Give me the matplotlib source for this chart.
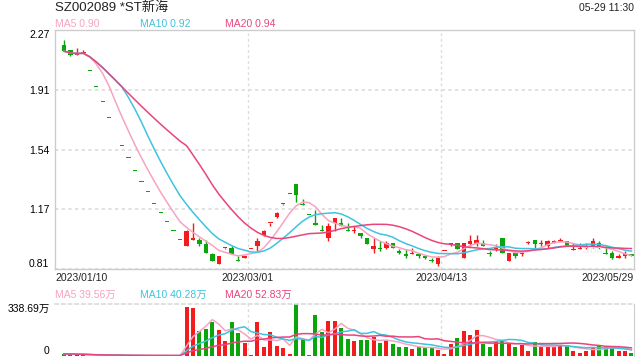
import numpy as np
import pandas as pd
import matplotlib
matplotlib.use('Agg')
import matplotlib.pyplot as plt

plt.rcParams['font.family'] = ['Liberation Sans', 'Noto Sans CJK SC', 'DejaVu Sans']

title = 'SZ002089 *ST新海'
stamp = '05-29 11:30'
date_labels = ['2023/01/10', '2023/03/01', '2023/04/13', '2023/05/29']
price_labels = ['0.81', '1.17', '1.54', '1.91', '2.27']
vol_labels = ['0', '338.69万']
ma_names = ['MA5', 'MA10', 'MA20']
ma_price_vals = ['0.90', '0.92', '0.94']
ma_vol_vals = ['39.56万', '40.28万', '52.83万']

opens = [2.18, 2.15, 2.12, 2.13, 2.02, 1.92, 1.83, 1.73, 1.65, 1.56, 1.49, 1.41, 1.34, 1.28, 1.21,
         1.15, 1.10, 1.04, 0.99, 0.95, 0.99, 0.99, 0.96, 0.90, 0.84, 0.94, 0.94, 0.86, 0.88, 0.93,
         0.95, 1.02, 1.09, 1.13, 1.21, 1.27, 1.33, 1.20, 1.14, 1.09, 1.05, 1.00, 1.09, 1.09, 1.05,
         1.04, 1.03, 1.00, 0.93, 0.94, 0.94, 0.97, 0.92, 0.90, 0.90, 0.90, 0.89, 0.865, 0.84, 0.92,
         0.96, 0.97, 0.88, 0.96, 0.96, 0.97, 0.91, 0.93, 1.00, 0.86, 0.91, 0.90, 0.97, 0.99, 0.96,
         0.95, 0.97, 0.98, 0.98, 0.925, 0.93, 0.94, 0.95, 0.97, 0.91, 0.91, 0.88, 0.89, 0.90]
highs = [2.21, 2.15, 2.16, 2.15, 2.02, 1.92, 1.83, 1.73, 1.65, 1.56, 1.49, 1.41, 1.34, 1.28, 1.21,
         1.15, 1.10, 1.04, 0.99, 1.05, 1.09, 1.00, 0.99, 0.91, 0.89, 0.94, 0.95, 0.89, 0.89, 0.93,
         1.00, 1.05, 1.09, 1.16, 1.21, 1.27, 1.33, 1.24, 1.14, 1.17, 1.08, 1.09, 1.12, 1.12, 1.09,
         1.07, 1.03, 1.00, 1.00, 0.98, 0.98, 0.97, 0.93, 0.93, 0.94, 0.91, 0.89, 0.88, 0.89, 0.92,
         0.97, 0.97, 0.97, 1.02, 1.02, 0.99, 0.92, 0.96, 1.00, 0.91, 0.92, 0.92, 0.98, 0.99, 0.99,
         0.99, 0.99, 1.00, 0.98, 0.97, 0.97, 0.97, 1.00, 0.98, 0.95, 0.92, 0.90, 0.92, 0.90]
lows = [2.14, 2.11, 2.12, 2.13, 2.02, 1.92, 1.83, 1.73, 1.65, 1.56, 1.49, 1.41, 1.34, 1.28, 1.21,
        1.15, 1.10, 1.04, 0.99, 0.95, 0.99, 0.95, 0.91, 0.86, 0.84, 0.93, 0.90, 0.86, 0.88, 0.93,
        0.92, 1.01, 1.07, 1.12, 1.20, 1.27, 1.22, 1.20, 1.14, 1.08, 1.04, 0.98, 1.04, 1.07, 1.04,
        1.03, 1.00, 0.96, 0.91, 0.92, 0.93, 0.94, 0.90, 0.88, 0.90, 0.88, 0.87, 0.85, 0.83, 0.92,
        0.95, 0.93, 0.88, 0.95, 0.95, 0.95, 0.89, 0.92, 0.91, 0.86, 0.88, 0.89, 0.96, 0.94, 0.95,
        0.94, 0.97, 0.98, 0.95, 0.925, 0.93, 0.93, 0.94, 0.93, 0.90, 0.87, 0.88, 0.88, 0.89]
closes = [2.14, 2.12, 2.12, 2.13, 2.02, 1.92, 1.83, 1.73, 1.65, 1.56, 1.49, 1.41, 1.34, 1.28, 1.21,
          1.15, 1.10, 1.04, 0.99, 1.04, 1.00, 0.96, 0.91, 0.86, 0.89, 0.94, 0.90, 0.86, 0.89, 0.93,
          0.98, 1.04, 1.09, 1.15, 1.21, 1.27, 1.26, 1.20, 1.14, 1.08, 1.04, 1.07, 1.12, 1.07, 1.04,
          1.05, 1.01, 0.96, 0.95, 0.93, 0.97, 0.94, 0.91, 0.89, 0.90, 0.89, 0.88, 0.86, 0.88, 0.92,
          0.97, 0.93, 0.97, 0.98, 0.99, 0.95, 0.90, 0.94, 0.91, 0.91, 0.89, 0.91, 0.97, 0.96, 0.97,
          0.98, 0.98, 0.99, 0.95, 0.93, 0.93, 0.95, 0.98, 0.94, 0.90, 0.88, 0.89, 0.90, 0.89]
# volume in 万
volumes = [14, 12, 10, 8, 3, 2, 2, 2, 2, 2, 2, 2, 2, 2, 2, 2, 2, 2, 3,
           316, 311, 163, 176, 219, 169, 95, 219, 151, 83, 4, 219, 61, 158, 63, 52, 10, 338.69, 102, 5, 264,
           158, 226, 226, 185, 108, 97, 102, 102, 124, 83, 106, 75, 61, 61, 45, 61, 50, 61, 41, 11,
           75, 117, 165, 135, 169, 79, 61, 97, 106, 75, 60, 70, 30, 90, 65, 60, 60, 72, 72,
           34, 20, 34, 52, 68, 61, 52, 34, 34, 20]

RED = '#f31c1c'
GREEN = '#0aa50a'
MA_COLORS = ['#f7a3c2', '#3fc3df', '#e9447c']
GRID = '#dcdcdc'
EDGE = '#cccccc'

o = np.array(opens); h = np.array(highs); l = np.array(lows); c = np.array(closes)
v = np.array(volumes, dtype=float)
n = len(c)
x = np.arange(n)
prev = np.r_[c[0], c[:-1]]
up = (c > o) | ((c == o) & (c >= prev))
colors = np.where(up, RED, GREEN)

W, H = 640, 360
fig = plt.figure(figsize=(6.4, 3.6), dpi=100)

def box(left, top, right, bottom):
    return [left / W, 1 - bottom / H, (right - left) / W, (bottom - top) / H]

def ftext(px, py, s, **kw):
    fig.text(px / W, 1 - py / H, s, **kw)

xlim = (-1.4, 88.4)

# price panel
ax = fig.add_axes(box(55, 30, 634, 269))
ax.vlines(x, l, h, color=colors, lw=1, zorder=2)
ax.bar(x, np.maximum(np.abs(c - o), 0.006), bottom=np.minimum(o, c), width=0.68,
       color=colors, lw=0, zorder=2)
for win, col in zip([5, 10, 20], MA_COLORS):
    ax.plot(x, pd.Series(c).rolling(win, min_periods=1).mean(), color=col, lw=1.1, zorder=3)
ax.set_xlim(*xlim)
ax.set_ylim(0.81, 2.27)
ax.set_yticks(np.linspace(0.81, 2.27, 5))
ax.set_yticklabels(price_labels, fontsize=7.5)
ax.get_yticklabels()[0].set_va('bottom')
ax.get_yticklabels()[-1].set_va('top')
ax.tick_params(axis='y', length=0, pad=4)
ax.set_xticks([])
ax.grid(axis='y', color=GRID, ls=(0, (2, 2)), lw=1.2)
for fx in (1 / 3, 2 / 3):
    ax.plot([fx, fx], [0, 1], transform=ax.transAxes, color=GRID, ls=(0, (2, 2)), lw=1)
for s in ax.spines.values():
    s.set_color(EDGE)
    s.set_linewidth(1)

# volume panel
vx = fig.add_axes(box(55, 304, 634, 356))
vx.bar(x, v, width=0.62, color=colors, lw=0, zorder=2)
for win, col in zip([5, 10, 20], MA_COLORS):
    vx.plot(x, pd.Series(v).rolling(win, min_periods=1).mean(), color=col, lw=1.1, zorder=3)
vx.set_xlim(*xlim)
vx.set_ylim(0, 338.69)
vx.set_yticks([0, 338.69])
vx.set_yticklabels(vol_labels, fontsize=7.5)
vx.get_yticklabels()[0].set_va('bottom')
vx.get_yticklabels()[-1].set_va('top')
vx.tick_params(axis='y', length=0, pad=4)
vx.set_xticks([])
for fx in (1 / 3, 2 / 3):
    vx.plot([fx, fx], [0, 1], transform=vx.transAxes, color=GRID, ls=(0, (2, 2)), lw=1)
vx.spines['left'].set_visible(False)
vx.spines['bottom'].set_visible(False)
vx.spines['right'].set_color(EDGE)
vx.spines['top'].set_color(GRID)
vx.spines['top'].set_linestyle((0, (2, 2)))
vx.spines['top'].set_linewidth(1.2)

# header texts
ftext(55, 8, title, fontsize=9.5, va='center', ha='left', color='#222222')
ftext(634, 8, stamp, fontsize=7.5, va='center', ha='right', color='#222222')
for px, name, val, col in zip([55, 140, 225], ma_names, ma_price_vals, MA_COLORS):
    ftext(px, 24, f'{name} {val}', fontsize=7.5, va='center', ha='left', color=col)
for px, name, val, col in zip([55, 140, 225], ma_names, ma_vol_vals, MA_COLORS):
    ftext(px, 295, f'{name} {val}', fontsize=7.5, va='center', ha='left', color=col)

# faint watermark
ftext(583, 250, 'sina', fontsize=8, va='center', ha='left', color='#ececec')

# date labels under price panel
ftext(55, 278, date_labels[0], fontsize=7.5, va='center', ha='left', color='#222222')
ftext(55 + 579 / 3, 278, date_labels[1], fontsize=7.5, va='center', ha='center', color='#222222')
ftext(55 + 579 * 2 / 3, 278, date_labels[2], fontsize=7.5, va='center', ha='center', color='#222222')
ftext(634, 278, date_labels[3], fontsize=7.5, va='center', ha='right', color='#222222')

fig.savefig('out.png', dpi=100)
